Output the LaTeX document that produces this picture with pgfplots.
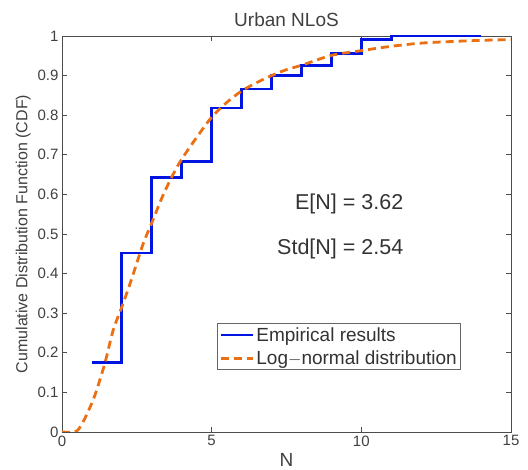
\documentclass[border=0pt]{standalone}
\usepackage{fontspec}
\setmainfont{Liberation Sans}
\usepackage{pgfplots}
\pgfplotsset{compat=1.18}
\definecolor{empblue}{RGB}{0,20,225}
\definecolor{lnorange}{RGB}{235,112,20}

\begin{document}
\begin{tikzpicture}
\begin{axis}[
  scale only axis,
  width=449pt, height=396pt,
  xmin=0, xmax=15, ymin=0, ymax=1,
  xtick={0,5,10,15},
  ytick={0,0.1,0.2,0.3,0.4,0.5,0.6,0.7,0.8,0.9,1},
  yticklabels={0,0.1,0.2,0.3,0.4,0.5,0.6,0.7,0.8,0.9,1},
  tick align=inside,
  major tick length=5pt,
  tick style={black!70, line width=0.6pt},
  axis line style={black!70, line width=0.8pt},
  /pgf/number format/assume math mode=true,
  tick label style={font=\fontsize{15}{17}\selectfont, text=black!75},
  title={Urban NLoS},
  title style={font=\fontsize{19}{21}\selectfont, text=black!75},
  xlabel={N},
  ylabel={Cumulative Distribution Function (CDF)},
  xlabel style={font=\fontsize{19}{21}\selectfont, text=black!75},
  ylabel style={font=\fontsize{16}{18}\selectfont, text=black!75},
  legend style={
    at={(rel axis cs:0.889,0.156)}, anchor=south east,
    font=\fontsize{19}{20}\selectfont, text=black!80,
    draw=black!60, line width=0.8pt,
    row sep=4pt, inner sep=2pt,
    cells={anchor=west},
  },
  legend image code/.code={\draw[#1, line width=2.8pt] (0pt,0pt) -- (32pt,0pt);},
]
\addplot[empblue, line width=2.8pt, const plot mark left] coordinates {
  (1,0.175) (2,0.452) (3,0.642) (4,0.684) (5,0.818) (6,0.866)
  (7,0.901) (8,0.925) (9,0.955) (10,0.991) (11,1.0) (14,1.0)
};
\addlegendentry{Empirical results}
\addplot[lnorange, line width=2.8pt, dash pattern=on 8pt off 5pt, smooth] coordinates {
  (0,0) (0.43,0) (0.6,0.012) (0.82,0.043) (1.1,0.093) (1.43,0.173)
  (1.71,0.257) (2.0,0.316) (2.32,0.385) (2.71,0.475) (3.0,0.528)
  (3.33,0.59) (3.66,0.643) (4.0,0.689) (4.5,0.744) (5,0.795)
  (5.5,0.832) (6,0.861) (6.5,0.882) (7,0.9) (7.5,0.915) (8,0.926)
  (9,0.951) (10,0.963) (11,0.974) (12,0.982) (13,0.986) (14,0.989)
  (15,0.991)
};
\addlegendentry{Log$-$normal distribution}
\node[anchor=east, font=\fontsize{21.5}{23}\selectfont, text=black!80] at (axis cs:11.52,0.576) {E[N] = 3.62};
\node[anchor=east, font=\fontsize{21.5}{23}\selectfont, text=black!80] at (axis cs:11.52,0.463) {Std[N] = 2.54};
\end{axis}
\path (current axis.south west) ++(-62pt,-38pt) (current axis.north east) ++(17pt,36pt);
\end{tikzpicture}
\end{document}
